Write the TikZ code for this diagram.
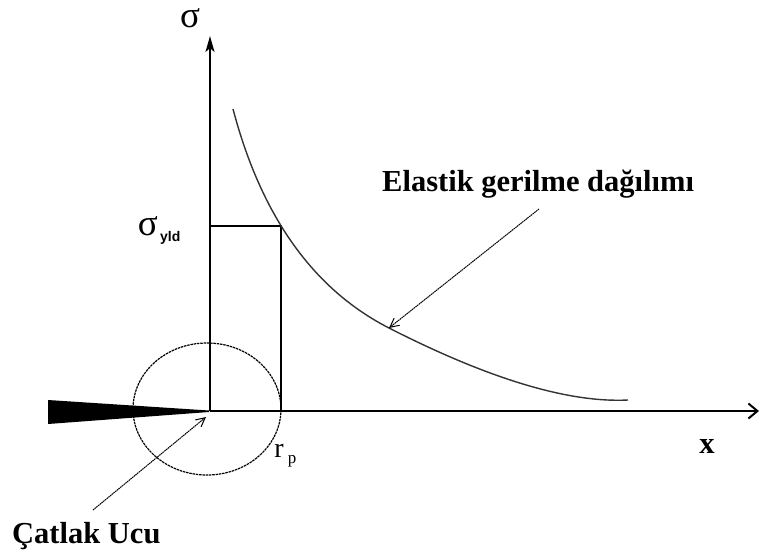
\documentclass[tikz,border=0pt]{standalone}
\usepackage{fontspec}
\setmainfont{Liberation Serif}
\newfontfamily\sansfam{Liberation Sans}
\usetikzlibrary{arrows.meta}
\begin{document}
\begin{tikzpicture}[x=1pt,y=-1pt,
  axis/.style={line width=1.8pt},
  guide/.style={line width=1.6pt},
  curveline/.style={line width=1.4pt, black!80},
  pointer/.style={line width=1pt, dash pattern=on 1.6pt off 0.6pt, -{Straight Barb[length=9pt,width=9pt,line width=1pt]}},
  lbl/.style={inner sep=0pt, font=\fontsize{30.5}{32}\selectfont\bfseries},
  sig/.style={inner sep=0pt, font=\fontsize{37}{39}\selectfont}]
\useasboundingbox (0,0) rectangle (761,555);
% coordinates
\coordinate (O) at (210,411);
\coordinate (ytip) at (210,36);
\coordinate (xtip) at (759,411);
\coordinate (S) at (210,226);
\coordinate (C) at (281,226);
\coordinate (R) at (281,411);
% crack wedge
\fill (48,400) -- (209,410.5) -- (209,412) -- (48,424) -- cycle;
% plastic zone circle
\draw[line width=1.2pt, dash pattern=on 2.5pt off 0.8pt] (207,409) ellipse [x radius=74, y radius=66];
% axes
\draw[axis, -{Stealth[length=16pt,width=9pt,inset=4pt]}] (O) -- (ytip);
\draw[axis, -{Straight Barb[length=9pt,width=15pt,line width=2pt]}] (O) -- (xtip);
% rectangle guides
\draw[guide] (S) -- (C) -- (R);
% elastic stress curve
\draw[curveline] (233,109) .. controls (261.3,216.3) and (313.3,289.3) .. (389,328)
  .. controls (489,379) and (568.7,403) .. (628,400);
% labels
\node[sig, anchor=base, text height=18pt] (sigma) at (190,27) {σ};
\node[sig, anchor=base east] (sy) at (158,235) {σ};
\node[inner sep=0pt, anchor=base west, font=\sansfam\fontsize{14}{15}\selectfont\bfseries] (yld) at (160,241) {yld};
\node[inner sep=0pt, anchor=base, font=\fontsize{28}{30}\selectfont] (r) at (279,457) {r};
\node[inner sep=0pt, anchor=base, font=\fontsize{17}{18}\selectfont] (p) at (292,463) {p};
\node[lbl] (xl) at (707,446) {x};
\node[lbl, anchor=west] (el) at (382,184) {Elastik gerilme dağılımı};
\node[lbl, anchor=west] (cu) at (12,536) {Çatlak Ucu};
% pointers
\coordinate (elstart) at (539,209);
\coordinate (elend) at (389,328);
\coordinate (custart) at (93,510);
\coordinate (cuend) at (206,417);
\draw[pointer] (elstart) -- (elend);
\draw[pointer] (custart) -- (cuend);
\end{tikzpicture}
\end{document}
